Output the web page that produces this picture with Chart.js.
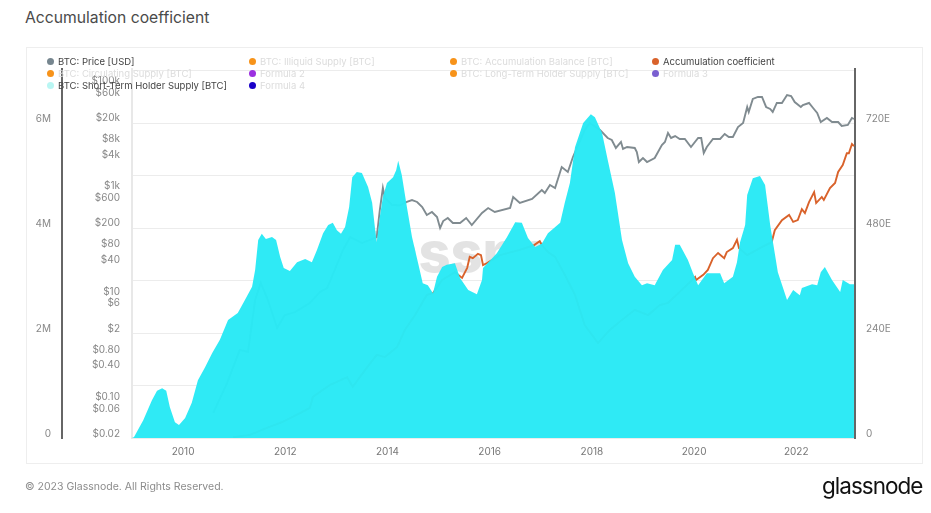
<!DOCTYPE html>
<html><head><meta charset="utf-8">
<script src="https://cdn.jsdelivr.net/npm/chart.js@4"></script>
<style>
html,body{margin:0;padding:0;background:#fff;font-family:Inter,sans-serif}
#wrap{position:relative;width:931px;height:513px;overflow:hidden}
#card{position:absolute;left:26px;top:47px;width:895px;height:415px;border:1px solid #eeeeee;box-sizing:content-box}
#title{position:absolute;left:25px;top:9px;font-size:15.7px;line-height:18px;color:#4a4a4a}
#foot{position:absolute;left:25px;top:480px;font-size:10.5px;line-height:14px;color:#8c8c8c}
#logo{position:absolute;left:822px;top:471px;font-family:Inter,sans-serif;font-size:22.5px;letter-spacing:-1px;line-height:30px;color:#111}
#wm{position:absolute;left:325px;top:214px;width:306px;text-align:center;font-family:Inter,sans-serif;font-weight:800;font-size:56px;line-height:76px;color:#e3e3e3}
canvas{position:absolute;left:0;top:0}
.lg{position:absolute;font-size:9.5px;line-height:12px;white-space:nowrap}
.dot{position:absolute;width:7px;height:7px;border-radius:50%}
</style></head><body>
<div id="wrap">
<div id="title">Accumulation coefficient</div>
<div id="card"></div>
<div id="wm">glassnode</div>
<canvas id="c" width="931" height="513"></canvas>
<div id="legend"></div>
<div id="foot">© 2023 Glassnode. All Rights Reserved.</div>
<div id="logo">glassnode</div>
</div>
<script>
const legendNames = ["BTC: Price [USD]","BTC: Illiquid Supply [BTC]","BTC: Accumulation Balance [BTC]","Accumulation coefficient",
 "BTC: Circulating Supply [BTC]","Formula 2","BTC: Long-Term Holder Supply [BTC]","Formula 3",
 "BTC: Short-Term Holder Supply [BTC]","Formula 4"];
const legendColors = ["#76868f","#f7931a","#f7931a","#d9622b","#f7931a","#9b30e0","#f7931a","#7a5fd0","#b9f6f3","#1a00c8"];
const legendActive = [true,false,false,true,false,false,false,false,true,false];

const yearTicks = [2010,2012,2014,2016,2018,2020,2022];
const supplyTicks = [0,1,2,3,4,5,6,7];
const priceTicks = [0.02,0.06,0.1,0.4,0.8,2,6,10,40,80,200,600,1000,4000,8000,20000,60000,100000];
const coefTicks = [0,240,480,720];

const sthYears = [2009.0,2009.04,2009.22,2009.39,2009.49,2009.59,2009.67,2009.74,2009.84,2009.92,2010.04,2010.17,2010.29,2010.43,2010.57,2010.72,2010.88,2011.07,2011.21,2011.35,2011.41,2011.47,2011.54,2011.62,2011.74,2011.82,2011.90,2011.97,2012.09,2012.23,2012.39,2012.52,2012.62,2012.74,2012.84,2012.93,2013.01,2013.09,2013.17,2013.25,2013.31,2013.40,2013.50,2013.62,2013.70,2013.76,2013.79,2013.85,2013.91,2013.99,2014.11,2014.17,2014.21,2014.28,2014.38,2014.48,2014.60,2014.69,2014.79,2014.89,2014.97,2015.07,2015.16,2015.32,2015.42,2015.58,2015.75,2015.85,2015.87,2016.14,2016.34,2016.50,2016.63,2016.75,2016.89,2017.02,2017.14,2017.38,2017.47,2017.57,2017.67,2017.83,2017.98,2018.06,2018.20,2018.31,2018.45,2018.59,2018.71,2018.84,2018.98,2019.08,2019.23,2019.39,2019.57,2019.63,2019.72,2019.88,2019.98,2020.08,2020.25,2020.51,2020.59,2020.76,2020.84,2020.90,2021.00,2021.04,2021.15,2021.29,2021.39,2021.49,2021.64,2021.82,2021.94,2022.07,2022.11,2022.31,2022.41,2022.48,2022.56,2022.70,2022.86,2022.91,2023.05,2023.13];
const sthSupply = [0,0.02,0.34,0.72,0.90,0.95,0.90,0.59,0.30,0.25,0.38,0.67,1.10,1.35,1.62,1.87,2.25,2.38,2.63,2.88,3.20,3.77,3.89,3.79,3.83,3.77,3.45,3.24,3.18,3.35,3.41,3.35,3.58,3.90,4.06,4.10,3.96,3.89,4.02,4.40,4.97,5.07,5.05,4.78,4.48,3.96,3.73,4.21,4.59,4.86,4.97,5.10,5.28,5.01,4.40,3.83,3.33,2.95,2.91,2.76,3.07,3.26,3.30,3.33,3.05,2.82,2.74,3.01,3.24,3.52,3.83,4.11,4.10,3.81,3.64,3.70,3.90,4.10,4.48,4.86,5.54,6.00,6.17,6.11,5.81,5.30,4.67,3.77,3.33,3.07,2.91,2.95,2.91,3.20,3.39,3.68,3.68,3.39,3.14,2.91,3.14,3.14,2.95,3.07,3.35,3.73,4.06,4.63,4.95,4.99,4.82,4.06,3.16,2.63,2.82,2.72,2.86,2.93,2.91,3.16,3.26,3.01,2.78,3.01,2.93,2.93];

const priceYears = [2010.59,2010.86,2011.11,2011.27,2011.41,2011.52,2011.66,2011.84,2011.99,2012.19,2012.48,2012.68,2012.82,2013.13,2013.27,2013.50,2013.79,2013.85,2013.91,2013.95,2014.09,2014.24,2014.38,2014.48,2014.58,2014.68,2014.77,2014.87,2014.97,2015.03,2015.09,2015.18,2015.28,2015.42,2015.54,2015.65,2015.85,2015.97,2016.10,2016.40,2016.46,2016.59,2016.83,2017.02,2017.08,2017.18,2017.28,2017.41,2017.53,2017.63,2017.86,2017.96,2018.16,2018.31,2018.39,2018.47,2018.57,2018.61,2018.69,2018.84,2018.88,2018.92,2019.00,2019.08,2019.23,2019.37,2019.43,2019.49,2019.55,2019.63,2019.72,2019.82,2019.94,2020.08,2020.14,2020.19,2020.25,2020.37,2020.51,2020.60,2020.68,2020.76,2020.86,2020.96,2021.04,2021.07,2021.15,2021.25,2021.33,2021.41,2021.49,2021.54,2021.62,2021.72,2021.82,2021.90,2021.97,2022.09,2022.13,2022.25,2022.33,2022.41,2022.48,2022.60,2022.70,2022.82,2022.89,2023.01,2023.09,2023.13];
const priceUsd = [0.06,0.22,0.94,0.86,8.3,17.5,8.3,2.44,4.3,4.9,7.3,11.8,14,74,130,100,130,424,1109,716,526,520,602,656,602,483,341,388,312,193,262,299,240,240,299,220,372,462,388,462,748,576,686,1016,892,1264,1109,2774,2230,4296,13960,18960,13960,9860,9040,6368,8280,6100,6650,6368,5350,3452,4112,3452,4112,7260,8280,12240,9860,10740,9440,9440,6650,9860,9860,5116,6650,9440,9440,11750,10300,10300,15900,18960,38200,30700,54200,59200,59200,38200,35000,30700,45500,45500,64500,61800,47500,38200,41700,45500,36560,29400,19800,23600,19800,19800,16640,17400,23600,22600];

const coefYears = [2010.98,2011.31,2011.64,2011.95,2012.29,2012.48,2012.54,2012.87,2013.21,2013.32,2013.56,2013.79,2013.95,2014.19,2014.34,2014.54,2014.77,2014.89,2015.07,2015.32,2015.46,2015.56,2015.61,2015.67,2015.77,2015.83,2015.87,2015.95,2016.20,2016.59,2016.87,2016.98,2017.02,2017.14,2017.28,2017.47,2017.67,2017.86,2018.12,2018.35,2018.59,2018.84,2019.10,2019.33,2019.49,2019.72,2020.02,2020.04,2020.18,2020.27,2020.37,2020.47,2020.59,2020.64,2020.76,2020.84,2020.88,2021.04,2021.29,2021.52,2021.58,2021.72,2021.86,2021.94,2022.03,2022.11,2022.17,2022.25,2022.35,2022.39,2022.50,2022.54,2022.66,2022.76,2022.82,2022.91,2022.99,2023.03,2023.09,2023.13];
const coefE = [2,7,23,37,57,69,94,121,139,117,155,190,185,208,247,281,327,331,361,379,366,389,414,411,421,418,395,400,418,430,441,450,441,425,414,373,327,258,217,247,270,293,281,304,309,334,368,361,373,384,411,423,411,425,434,453,434,418,434,448,475,498,510,494,498,523,514,539,562,537,551,544,571,583,608,624,651,651,672,667];

// legend
const lg = document.getElementById('legend');
const colX = [47,249,450,652], rowY = [55,67,79];
legendNames.forEach((n,i)=>{
  const c = i%4, r = Math.floor(i/4);
  const d = document.createElement('div'); d.className='dot';
  d.style.left=colX[c]+'px'; d.style.top=(rowY[r]+2.5)+'px'; d.style.background=legendColors[i];
  const t = document.createElement('div'); t.className='lg'; t.textContent=n;
  t.style.left=(colX[c]+11)+'px'; t.style.top=(rowY[r]+0.5)+'px'; t.style.color=legendActive[i]?'#444':'#dcdcdc';
  lg.appendChild(d); lg.appendChild(t);
});

const zip=(xs,ys)=>xs.map((x,i)=>({x,y:ys[i]}));
const fit=(k,v)=>function(s){s[k]=v;};
const fix=arr=>function(s){s.ticks=arr.map(v=>({value:v}));};
const tickFont={family:'Inter',size:10};
function usd(v){ if(v>=1000) return '$'+(v/1000)+'k'; if(v<1) return '$'+v.toFixed(2); return '$'+v; }

new Chart(document.getElementById('c'),{
  type:'line',
  data:{datasets:[
    {label:'BTC: Short-Term Holder Supply [BTC]',data:zip(sthYears,sthSupply),yAxisID:'supply',order:0,
     fill:'origin',backgroundColor:'rgba(42,234,245,0.975)',borderWidth:0,pointRadius:0},
    {label:'Accumulation coefficient',data:zip(coefYears,coefE),yAxisID:'coef',order:1,
     borderColor:'#d9622b',borderWidth:1.9,pointRadius:0,fill:false},
    {label:'BTC: Price [USD]',data:zip(priceYears,priceUsd),yAxisID:'price',order:2,
     borderColor:'#808b90',borderWidth:1.9,pointRadius:0,fill:false}
  ]},
  options:{
    responsive:false,animation:false,
    layout:{padding:{left:26,top:69,right:0,bottom:45}},
    plugins:{legend:{display:false},tooltip:{enabled:false}},
    scales:{
      x:{type:'linear',min:2009,max:2023.15,afterFit:fit('height',30),afterBuildTicks:fix(yearTicks),
         grid:{display:false},border:{display:false},
         ticks:{color:'#777',font:tickFont,padding:0,maxRotation:0,autoSkip:false,callback:v=>String(v)}},
      supply:{type:'linear',position:'left',weight:2,min:0,max:7.03,afterFit:fit('width',36),afterBuildTicks:fix(supplyTicks),
         grid:{color:'#ececec',lineWidth:1,drawTicks:false},border:{color:'#666',width:2},
         ticks:{color:'#888',font:tickFont,padding:11,labelOffset:-4,autoSkip:false,
                callback:v=>v%2===0?(v===0?'0':v+'M'):''}},
      price:{type:'logarithmic',position:'left',weight:1,min:0.02,max:200800,afterFit:fit('width',70),afterBuildTicks:fix(priceTicks),
         grid:{display:false,drawTicks:false},border:{color:'#e8e8e8',width:2},
         ticks:{color:'#888',font:tickFont,padding:12,labelOffset:-4,autoSkip:false,callback:usd}},
      coef:{type:'linear',position:'right',min:0,max:843.4,afterFit:fit('width',76),afterBuildTicks:fix(coefTicks),
         grid:{display:false,drawTicks:false},border:{color:'#666',width:2},
         ticks:{color:'#888',font:tickFont,padding:11,labelOffset:-4,autoSkip:false,callback:v=>v===0?'0':v+'E'}}
    }
  }
});
</script>
</body></html>
